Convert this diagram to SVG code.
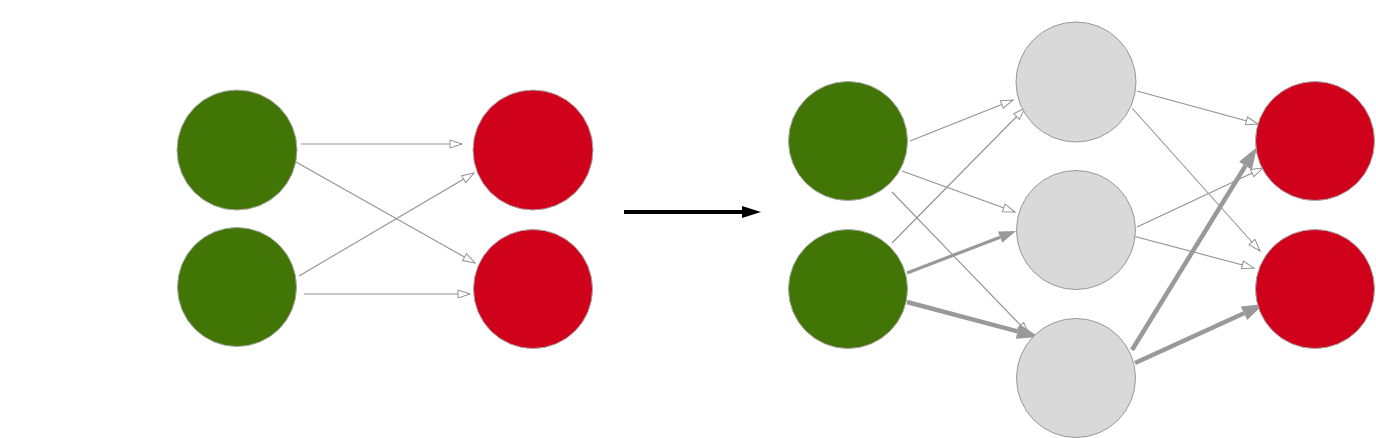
<svg xmlns="http://www.w3.org/2000/svg" width="1376" height="438" viewBox="0 0 1376 438">
<style>
.g{fill:#417505;stroke:#a8a8a8;stroke-width:1}
.r{fill:#d0021b;stroke:#a8a8a8;stroke-width:1}
.h{fill:#d9d9d9;stroke:#999;stroke-width:1}
.t{stroke:#929292;stroke-width:1.1;fill:none;marker-end:url(#open)}
.k{stroke:#999;stroke-width:4.5;fill:none;marker-end:url(#fill)}
.k3{stroke:#999;stroke-width:3.2;fill:none;marker-end:url(#fill3)}
</style>
<defs>
<marker id="open" markerUnits="userSpaceOnUse" markerWidth="16" markerHeight="12" refX="13" refY="5" orient="auto" viewBox="0 0 16 12" overflow="visible">
<path d="M1,1 L13,5 L1,9 z" fill="#fff" stroke="#929292" stroke-width="1"/>
</marker>
<marker id="fill" markerUnits="userSpaceOnUse" markerWidth="24" markerHeight="16" refX="0" refY="7.5" orient="auto" viewBox="0 0 24 16" overflow="visible">
<path d="M0,0 L22,7.5 L0,15 z" fill="#999"/>
</marker>
<marker id="fill3" markerUnits="userSpaceOnUse" markerWidth="20" markerHeight="13" refX="0" refY="6" orient="auto" viewBox="0 0 20 13" overflow="visible">
<path d="M0,0 L17,6 L0,12 z" fill="#999"/>
</marker>
<marker id="blk" markerUnits="userSpaceOnUse" markerWidth="20" markerHeight="14" refX="0" refY="6" orient="auto" viewBox="0 0 20 14" overflow="visible">
<path d="M0,0 L19,6 L0,12 z" fill="#000"/>
</marker>
</defs>
<g id="connectors">
<line class="t" x1="301" y1="144" x2="462" y2="144"/>
<line class="t" x1="296" y1="162" x2="475" y2="263"/>
<line class="t" x1="299" y1="276" x2="474" y2="173"/>
<line class="t" x1="304" y1="294" x2="470" y2="294"/>
<line x1="624" y1="212" x2="742" y2="212" stroke="#000" stroke-width="4" marker-end="url(#blk)"/>
<line class="t" x1="910" y1="141" x2="1013" y2="100"/>
<line class="t" x1="892" y1="243" x2="1025" y2="108"/>
<line class="t" x1="902" y1="171" x2="1015" y2="212"/>
<line class="t" x1="892" y1="192" x2="1029" y2="334"/>
<line class="k3" x1="907" y1="273" x2="1000.1" y2="237.2"/>
<line class="k" x1="907" y1="302" x2="1017.7" y2="331.4"/>
<line class="t" x1="1137" y1="91" x2="1258" y2="124"/>
<line class="t" x1="1132" y1="108" x2="1260" y2="251"/>
<line class="t" x1="1137" y1="227" x2="1263" y2="168"/>
<line class="t" x1="1133" y1="236" x2="1254" y2="268"/>
<line class="k" x1="1132" y1="350" x2="1245.5" y2="165.7"/>
<line class="k" x1="1135" y1="363" x2="1244" y2="313.2"/>
</g>
<g id="l_in1"><circle class="g" cx="237" cy="150" r="60"/></g>
<g id="l_in2"><circle class="g" cx="237" cy="287" r="59.5"/></g>
<g id="l_out1"><circle class="r" cx="533" cy="150" r="60"/></g>
<g id="l_out2"><circle class="r" cx="533" cy="289" r="59.5"/></g>
<g id="r_in1"><circle class="g" cx="848" cy="141" r="59.5"/></g>
<g id="r_in2"><circle class="g" cx="848" cy="289" r="59.5"/></g>
<g id="r_h1"><circle class="h" cx="1076" cy="82" r="60"/></g>
<g id="r_h2"><circle class="h" cx="1076" cy="230" r="59.5"/></g>
<g id="r_h3"><circle class="h" cx="1076" cy="378" r="59.5"/></g>
<g id="r_out1"><circle class="r" cx="1315" cy="141" r="59.5"/></g>
<g id="r_out2"><circle class="r" cx="1315" cy="289" r="59.5"/></g>
</svg>
